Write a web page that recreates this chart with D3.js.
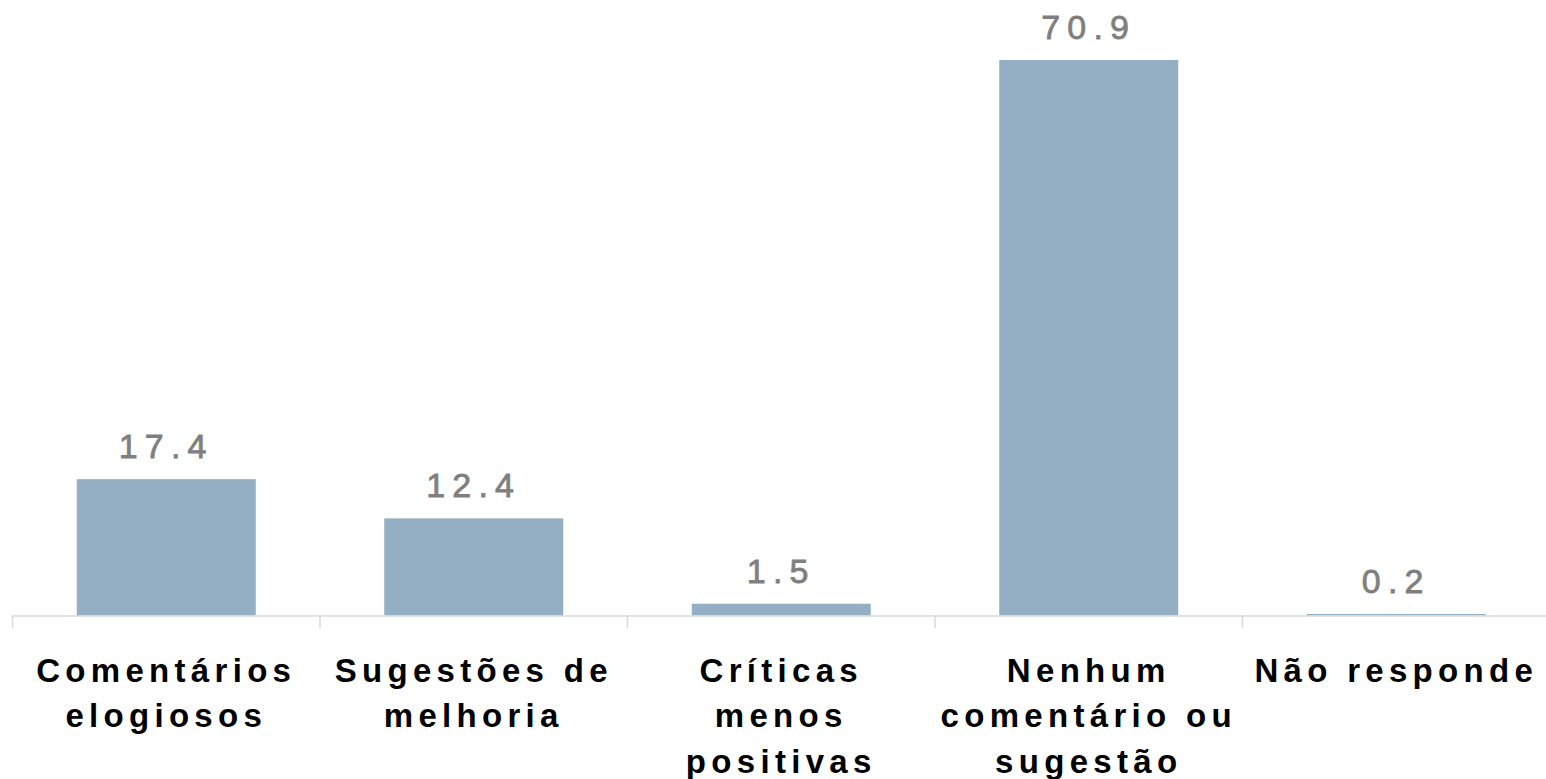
<!DOCTYPE html>
<html>
<head>
<meta charset="utf-8">
<script src="https://cdn.jsdelivr.net/npm/d3@7"></script>
<style>
  html, body { margin: 0; padding: 0; background: #ffffff; }
  svg { display: block; }
</style>
</head>
<body>
<svg id="chart" width="1546" height="779"></svg>
<script>
const categories = [
  "Comentários elogiosos",
  "Sugestões de melhoria",
  "Críticas menos positivas",
  "Nenhum comentário ou sugestão",
  "Não responde"
];
const categoryLines = [
  ["Comentários", "elogiosos"],
  ["Sugestões de", "melhoria"],
  ["Críticas", "menos", "positivas"],
  ["Nenhum", "comentário ou", "sugestão"],
  ["Não responde"]
];
const values = [17.4, 12.4, 1.5, 70.9, 0.2];
const valueLabels = ["17.4", "12.4", "1.5", "70.9", "0.2"];

const svg = d3.select("#chart");
const baseline = 615.5;

const x = d3.scaleBand()
  .domain(categories)
  .range([12.5, 1550])
  .paddingInner(0.418)
  .paddingOuter(0.209);

const y = d3.scaleLinear()
  .domain([0, 70.9])
  .range([baseline, 60]);

// bars
svg.append("g").selectAll("rect")
  .data(values)
  .join("rect")
  .attr("x", (d, i) => x(categories[i]))
  .attr("width", x.bandwidth())
  .attr("y", d => y(d))
  .attr("height", d => y(0) - y(d))
  .attr("fill", "#94aec4");

// axis line
const axisG = svg.append("g");
axisG.append("line")
  .attr("x1", 12.5).attr("x2", 1546)
  .attr("y1", baseline + 0.5).attr("y2", baseline + 0.5)
  .attr("stroke", "#d9d9d9").attr("stroke-width", 1.5);

// tick marks at band boundaries
const step = x.step();
const boundaries = categories.map((c, i) => x(c) - x.paddingInner() * step / 2);
axisG.selectAll("line.tick")
  .data(boundaries)
  .join("line")
  .attr("class", "tick")
  .attr("x1", d => d).attr("x2", d => d)
  .attr("y1", baseline).attr("y2", baseline + 12.5)
  .attr("stroke", "#d9d9d9").attr("stroke-width", 1.5);

// value labels
svg.append("g").selectAll("text")
  .data(values)
  .join("text")
  .attr("x", (d, i) => x(categories[i]) + x.bandwidth() / 2)
  .attr("y", d => y(d) - 21)
  .attr("text-anchor", "middle")
  .attr("font-family", "Liberation Sans, Arial, sans-serif")
  .attr("font-size", 34)
  .attr("letter-spacing", 7.2)
  .attr("fill", "#7f7f7f")
  .attr("stroke", "#7f7f7f")
  .attr("stroke-width", 0.8)
  .text((d, i) => valueLabels[i]);

// category labels
const catG = svg.append("g");
categoryLines.forEach((lines, i) => {
  const cx = x(categories[i]) + x.bandwidth() / 2;
  const t = catG.append("text")
    .attr("text-anchor", "middle")
    .attr("font-family", "Liberation Sans, Arial, sans-serif")
    .attr("font-size", 33)
    .attr("font-weight", "bold")
    .attr("letter-spacing", 5.3)
    .attr("fill", "#000000");
  lines.forEach((ln, j) => {
    t.append("tspan")
      .attr("x", cx)
      .attr("y", 681.5 + j * 45.5)
      .text(ln);
  });
});
</script>
</body>
</html>
